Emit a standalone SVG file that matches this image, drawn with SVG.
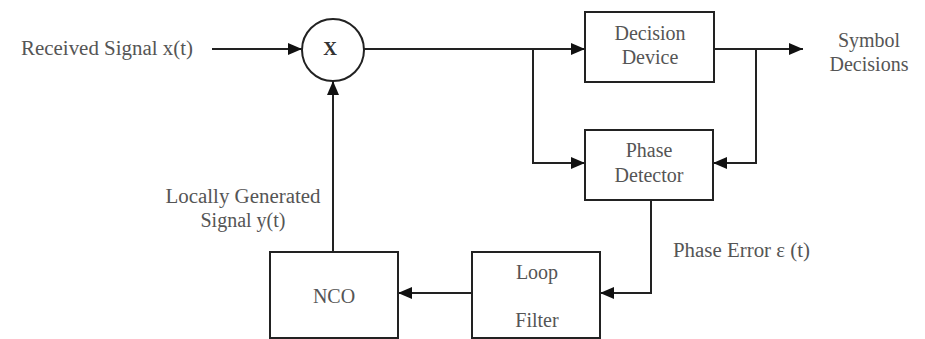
<svg xmlns="http://www.w3.org/2000/svg" width="925" height="339" viewBox="0 0 925 339">
<style>
.box{fill:#fff;stroke:#222;stroke-width:2}
.ln{fill:none;stroke:#222;stroke-width:2}
.t{font-family:"Liberation Serif","Times New Roman",serif;font-size:20px;fill:#555}
.c{text-anchor:middle}
.x{font-family:"Liberation Serif","Times New Roman",serif;font-size:19px;font-weight:bold;fill:#333;text-anchor:middle}
</style>
<defs>
<marker id="ah" markerUnits="userSpaceOnUse" markerWidth="14" markerHeight="12" viewBox="0 0 14 12" refX="14" refY="6" orient="auto">
<path d="M0,0 L14,6 L0,12 Z" fill="#111"/>
</marker>
</defs>
<rect width="925" height="339" fill="#fff"/>
<g id="connectors">
<path class="ln" d="M212,49 H302" marker-end="url(#ah)"/>
<path class="ln" d="M364,49 H585" marker-end="url(#ah)"/>
<path class="ln" d="M533,49 V163 H585" marker-end="url(#ah)"/>
<path class="ln" d="M714,49 H803" marker-end="url(#ah)"/>
<path class="ln" d="M756,49 V163 H713" marker-end="url(#ah)"/>
<path class="ln" d="M651,200 V293 H600" marker-end="url(#ah)"/>
<path class="ln" d="M472,293 H398" marker-end="url(#ah)"/>
<path class="ln" d="M333,252 V81" marker-end="url(#ah)"/>
</g>
<g id="input-label"><text class="t" x="21" y="55" textLength="172" lengthAdjust="spacingAndGlyphs">Received Signal x(t)</text></g>
<g id="mixer">
<circle class="box" cx="333" cy="50" r="31"/>
<text class="x" x="330" y="55">X</text>
</g>
<g id="decision-device">
<rect class="box" x="585" y="12" width="129" height="70"/>
<text class="t c" x="650" y="40">Decision</text>
<text class="t c" x="650" y="64">Device</text>
</g>
<g id="output-label">
<text class="t c" x="869" y="47">Symbol</text>
<text class="t c" x="869" y="71">Decisions</text>
</g>
<g id="phase-detector">
<rect class="box" x="585" y="130" width="128" height="70"/>
<text class="t c" x="649" y="157">Phase</text>
<text class="t c" x="649" y="182">Detector</text>
</g>
<g id="phase-error-label"><text class="t" x="673" y="257" textLength="137" lengthAdjust="spacingAndGlyphs">Phase Error ε (t)</text></g>
<g id="loop-filter">
<rect class="box" x="472" y="252" width="128" height="86"/>
<text class="t c" x="537" y="279">Loop</text>
<text class="t c" x="537" y="327">Filter</text>
</g>
<g id="nco">
<rect class="box" x="270" y="252" width="128" height="86"/>
<text class="t c" x="334" y="303">NCO</text>
</g>
<g id="local-label">
<text class="t c" x="243" y="203" textLength="155" lengthAdjust="spacingAndGlyphs">Locally Generated</text>
<text class="t c" x="243" y="227">Signal y(t)</text>
</g>
</svg>
